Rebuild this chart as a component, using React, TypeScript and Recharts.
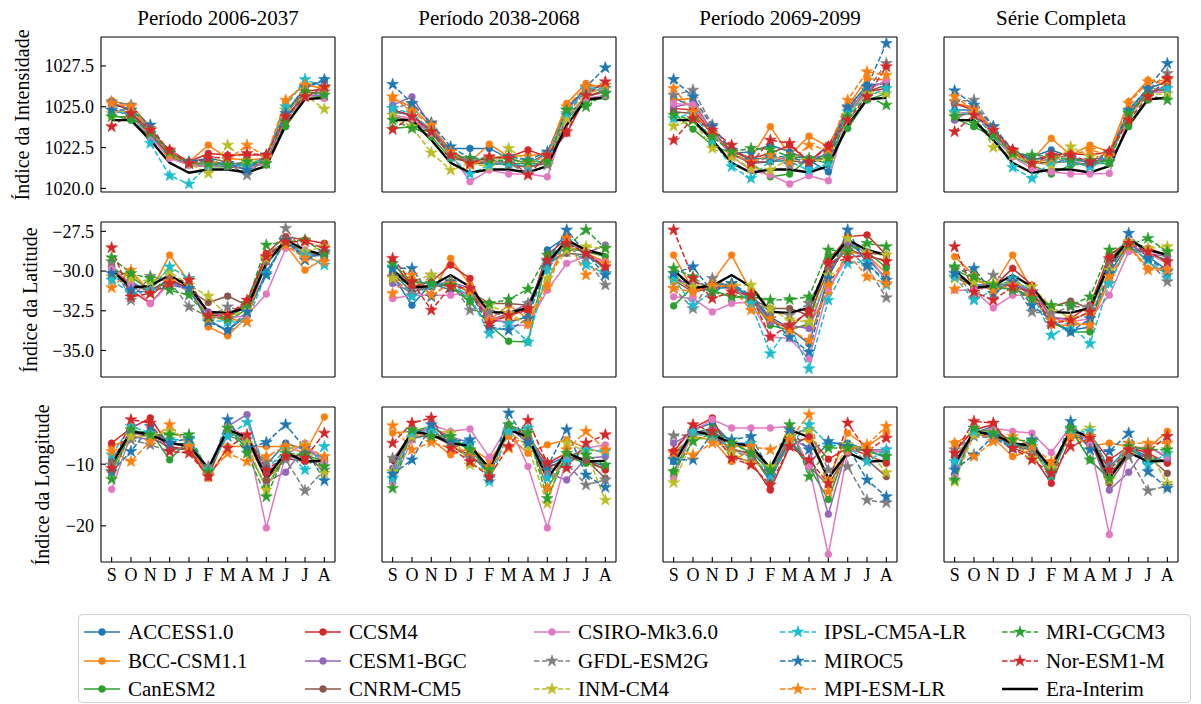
import React from "react";
import { LineChart, Line, XAxis, YAxis } from "recharts";

const months = ["S", "O", "N", "D", "J", "F", "M", "A", "M", "J", "J", "A"];
const periods = ["Período 2006-2037", "Período 2038-2068", "Período 2069-2099", "Série Completa"];
const modelNames = [
  "ACCESS1.0", "BCC-CSM1.1", "CanESM2", "CCSM4", "CESM1-BGC", "CNRM-CM5", "CSIRO-Mk3.6.0",
  "GFDL-ESM2G", "INM-CM4", "IPSL-CM5A-LR", "MIROC5", "MPI-ESM-LR", "MRI-CGCM3", "Nor-ESM1-M",
];
const modelColors = [
  "#1f77b4", "#ff7f0e", "#2ca02c", "#d62728", "#9467bd", "#8c564b", "#e377c2",
  "#7f7f7f", "#bcbd22", "#17becf", "#1f77b4", "#ff7f0e", "#2ca02c", "#d62728",
];

// Era-Interim reference
const eraIntensidade = [1024.18, 1024.18, 1022.96, 1021.57, 1020.96, 1021.16, 1021.16, 1020.98, 1021.37, 1023.88, 1025.45, 1025.55];
const eraLatitude = [-29.94, -31.05, -30.93, -30.25, -30.99, -32.57, -32.63, -32.32, -29.52, -28.04, -28.67, -28.99];
const eraLongitude = [-10.0, -4.67, -5.22, -6.58, -7.01, -10.65, -4.4, -5.6, -12.28, -8.1, -9.57, -9.46];

// rows follow modelNames order
const intensidadeP1 = [
  [1025.1, 1024.9, 1023.57, 1022.04, 1021.63, 1021.84, 1021.63, 1021.33, 1021.94, 1024.69, 1026.12, 1026.63],
  [1025.37, 1025.1, 1023.78, 1021.94, 1021.63, 1022.65, 1021.84, 1021.73, 1021.84, 1025.31, 1026.43, 1026.02],
  [1024.49, 1024.18, 1023.16, 1021.94, 1021.43, 1021.33, 1021.33, 1021.43, 1021.43, 1023.78, 1025.71, 1025.61],
  [1025.31, 1024.69, 1023.47, 1022.35, 1021.63, 1022.14, 1022.04, 1022.04, 1022.04, 1024.59, 1025.92, 1026.12],
  [1024.69, 1024.59, 1023.37, 1022.04, 1021.53, 1021.53, 1021.53, 1021.53, 1021.63, 1024.39, 1025.71, 1025.71],
  [1024.8, 1024.59, 1023.27, 1022.04, 1021.53, 1021.53, 1021.33, 1021.22, 1021.63, 1024.29, 1025.82, 1025.92],
  [1024.8, 1024.49, 1023.16, 1021.84, 1021.43, 1021.33, 1021.43, 1021.22, 1021.53, 1024.18, 1025.61, 1025.51],
  [1025.31, 1025.1, 1023.67, 1022.14, 1021.53, 1021.33, 1021.53, 1020.82, 1021.94, 1024.8, 1025.71, 1025.92],
  [1024.59, 1024.8, 1023.57, 1022.24, 1021.53, 1020.92, 1022.65, 1021.53, 1021.84, 1024.8, 1025.71, 1024.86],
  [1024.8, 1024.49, 1022.76, 1020.78, 1020.27, 1021.43, 1021.43, 1021.33, 1021.94, 1025.0, 1026.67, 1026.22],
  [1024.8, 1024.8, 1023.88, 1022.14, 1021.63, 1021.63, 1021.53, 1021.12, 1022.04, 1024.59, 1026.22, 1026.67],
  [1025.2, 1025.0, 1023.57, 1022.04, 1021.53, 1021.53, 1021.73, 1022.65, 1021.94, 1025.41, 1026.33, 1026.12],
  [1024.39, 1024.39, 1023.37, 1022.24, 1021.53, 1021.53, 1021.43, 1021.63, 1021.53, 1024.08, 1025.92, 1025.71],
  [1023.78, 1024.59, 1023.57, 1022.35, 1021.53, 1021.84, 1021.94, 1022.14, 1022.04, 1024.39, 1025.61, 1026.22],
];
const intensidadeP2 = [
  [1024.69, 1024.49, 1023.37, 1022.45, 1022.45, 1022.45, 1021.84, 1021.53, 1022.14, 1025.0, 1026.02, 1026.33],
  [1025.51, 1025.0, 1023.78, 1022.35, 1021.63, 1022.71, 1021.94, 1022.04, 1022.04, 1025.2, 1026.43, 1026.12],
  [1023.67, 1023.78, 1023.16, 1021.84, 1021.63, 1021.53, 1021.53, 1021.53, 1021.53, 1024.29, 1025.31, 1025.61],
  [1024.8, 1024.49, 1023.57, 1022.24, 1021.63, 1021.84, 1021.94, 1022.35, 1021.94, 1023.37, 1025.61, 1026.02],
  [1025.1, 1025.61, 1023.78, 1022.14, 1021.63, 1021.63, 1021.63, 1021.22, 1021.73, 1024.8, 1026.02, 1026.02],
  [1024.39, 1024.18, 1023.37, 1022.04, 1021.53, 1021.53, 1021.43, 1021.33, 1021.53, 1024.39, 1025.61, 1025.92],
  [1024.49, 1024.29, 1023.37, 1022.14, 1020.41, 1021.12, 1020.88, 1020.88, 1020.71, 1024.29, 1025.51, 1025.71],
  [1024.9, 1025.2, 1024.02, 1022.04, 1021.63, 1021.73, 1021.53, 1020.92, 1021.43, 1024.49, 1026.02, 1025.82],
  [1024.49, 1023.78, 1022.18, 1021.12, 1021.53, 1021.33, 1022.45, 1021.63, 1021.63, 1024.29, 1025.82, 1026.12],
  [1024.9, 1024.59, 1023.57, 1021.94, 1020.88, 1021.43, 1021.53, 1021.33, 1022.14, 1024.59, 1026.12, 1026.12],
  [1026.37, 1025.2, 1023.98, 1022.55, 1021.84, 1021.84, 1021.94, 1021.73, 1022.24, 1024.8, 1026.22, 1027.39],
  [1025.61, 1024.69, 1023.88, 1022.24, 1021.43, 1021.84, 1021.84, 1021.53, 1022.04, 1025.0, 1026.22, 1026.33],
  [1024.18, 1023.67, 1023.47, 1022.04, 1021.84, 1021.73, 1021.73, 1021.63, 1021.63, 1024.8, 1025.0, 1025.82],
  [1023.61, 1024.39, 1023.47, 1022.04, 1021.53, 1021.94, 1021.84, 1020.82, 1022.04, 1023.47, 1025.71, 1026.53],
];
const intensidadeP3 = [
  [1025.55, 1025.0, 1023.57, 1022.14, 1022.24, 1022.65, 1022.24, 1021.73, 1021.02, 1024.9, 1026.33, 1026.43],
  [1025.41, 1025.51, 1023.37, 1022.35, 1021.84, 1023.78, 1022.04, 1023.2, 1022.55, 1025.0, 1026.73, 1026.63],
  [1024.59, 1023.63, 1022.65, 1022.14, 1021.53, 1020.71, 1020.88, 1021.84, 1021.53, 1023.67, 1025.41, 1025.82],
  [1024.9, 1024.8, 1023.47, 1022.24, 1021.84, 1022.14, 1022.65, 1021.63, 1022.65, 1024.59, 1025.92, 1026.12],
  [1025.0, 1025.2, 1023.57, 1022.04, 1021.63, 1021.63, 1021.94, 1021.84, 1022.04, 1024.69, 1026.12, 1026.53],
  [1024.69, 1024.59, 1023.37, 1022.14, 1021.53, 1021.63, 1021.73, 1021.53, 1021.94, 1024.69, 1025.92, 1026.33],
  [1025.2, 1025.1, 1023.47, 1021.94, 1021.12, 1020.82, 1020.27, 1020.78, 1020.47, 1024.59, 1026.02, 1026.63],
  [1025.71, 1026.02, 1023.88, 1022.24, 1021.53, 1021.94, 1021.43, 1021.63, 1022.14, 1024.9, 1026.02, 1027.65],
  [1023.82, 1024.18, 1022.45, 1021.94, 1021.22, 1021.12, 1021.84, 1021.73, 1021.73, 1024.49, 1025.82, 1025.82],
  [1024.29, 1024.59, 1022.96, 1021.33, 1020.61, 1021.73, 1021.63, 1021.12, 1021.53, 1024.69, 1025.61, 1026.12],
  [1026.67, 1025.61, 1023.78, 1022.35, 1021.73, 1021.94, 1021.94, 1021.53, 1022.24, 1025.0, 1026.22, 1028.88],
  [1026.12, 1024.69, 1023.37, 1022.14, 1021.63, 1022.04, 1021.63, 1022.65, 1022.35, 1025.41, 1027.14, 1026.94],
  [1024.49, 1024.18, 1023.16, 1022.24, 1022.45, 1022.39, 1021.94, 1021.84, 1021.84, 1024.39, 1025.61, 1025.1],
  [1022.96, 1024.29, 1023.57, 1022.65, 1021.53, 1022.96, 1022.76, 1021.63, 1022.55, 1024.18, 1025.61, 1027.45],
];
const intensidadeP4 = [
  [1024.8, 1024.8, 1023.57, 1022.24, 1021.94, 1022.35, 1021.94, 1021.53, 1021.94, 1024.8, 1026.12, 1026.53],
  [1025.2, 1025.0, 1023.57, 1022.35, 1021.73, 1023.06, 1022.04, 1022.65, 1022.24, 1025.31, 1026.63, 1026.33],
  [1024.29, 1023.78, 1023.16, 1021.94, 1021.43, 1020.88, 1021.43, 1021.53, 1021.53, 1023.78, 1025.41, 1025.61],
  [1025.2, 1024.8, 1023.47, 1022.35, 1021.73, 1022.04, 1022.14, 1022.04, 1022.24, 1024.49, 1025.71, 1026.33],
  [1024.18, 1024.9, 1023.47, 1022.14, 1021.53, 1021.53, 1021.73, 1021.63, 1021.84, 1024.59, 1025.92, 1026.02],
  [1024.49, 1024.59, 1023.37, 1022.14, 1021.53, 1021.63, 1021.63, 1021.43, 1021.84, 1024.59, 1025.92, 1026.12],
  [1024.59, 1024.69, 1023.27, 1021.94, 1021.22, 1021.02, 1020.88, 1020.88, 1020.92, 1024.39, 1025.82, 1025.92],
  [1025.31, 1025.41, 1023.78, 1022.24, 1021.53, 1021.84, 1021.63, 1021.33, 1021.94, 1024.69, 1026.02, 1027.04],
  [1024.59, 1024.59, 1022.51, 1022.04, 1021.63, 1021.43, 1022.55, 1021.94, 1021.94, 1024.39, 1025.71, 1025.82],
  [1024.69, 1024.49, 1023.27, 1021.29, 1020.61, 1021.63, 1021.63, 1021.33, 1021.73, 1024.69, 1026.12, 1026.12],
  [1025.98, 1025.1, 1023.78, 1022.35, 1021.73, 1021.94, 1021.94, 1021.53, 1022.14, 1024.8, 1026.12, 1027.65],
  [1025.61, 1024.8, 1023.57, 1022.24, 1021.53, 1021.84, 1022.04, 1022.35, 1022.04, 1025.2, 1026.53, 1026.63],
  [1024.39, 1023.98, 1023.27, 1022.14, 1022.04, 1021.94, 1021.73, 1021.73, 1021.63, 1024.59, 1025.71, 1025.41],
  [1023.47, 1024.49, 1023.57, 1022.35, 1021.53, 1022.04, 1022.04, 1021.63, 1022.24, 1024.18, 1025.61, 1026.73],
];

const latitudeP1 = [
  [-30.15, -30.67, -31.31, -30.57, -31.09, -33.09, -33.73, -32.78, -30.04, -28.15, -29.09, -28.99],
  [-30.36, -30.04, -31.31, -28.99, -30.67, -33.52, -34.08, -32.88, -29.41, -28.36, -29.94, -29.2],
  [-29.83, -30.36, -31.2, -30.57, -31.31, -32.67, -33.2, -32.36, -28.99, -28.15, -28.78, -29.09],
  [-29.62, -31.2, -32.04, -30.67, -30.99, -32.78, -32.88, -31.94, -28.88, -27.83, -28.04, -28.25],
  [-29.94, -30.88, -31.2, -30.67, -31.2, -32.57, -32.88, -32.25, -29.41, -28.25, -28.88, -28.99],
  [-30.04, -30.78, -31.31, -30.46, -31.2, -31.98, -31.58, -32.15, -29.41, -28.25, -28.78, -29.09],
  [-29.83, -30.78, -32.04, -30.78, -31.2, -32.78, -32.99, -32.78, -31.45, -28.57, -28.67, -29.09],
  [-29.41, -31.83, -30.32, -30.67, -32.25, -32.88, -32.25, -32.57, -29.31, -27.31, -28.88, -28.99],
  [-30.36, -30.46, -30.67, -30.04, -30.88, -31.58, -32.88, -32.46, -29.2, -28.04, -28.78, -28.46],
  [-30.57, -31.41, -31.2, -29.73, -30.46, -33.09, -33.2, -33.2, -30.15, -28.04, -28.99, -29.62],
  [-30.15, -31.2, -31.41, -30.88, -31.09, -33.2, -33.73, -32.57, -30.25, -28.04, -29.31, -28.78],
  [-31.05, -29.94, -31.41, -30.67, -30.57, -32.99, -32.99, -33.2, -29.09, -28.36, -29.2, -29.41],
  [-29.16, -30.15, -30.46, -31.2, -31.52, -32.88, -32.99, -32.04, -28.36, -28.15, -28.04, -28.88],
  [-28.53, -31.62, -31.41, -30.78, -30.57, -32.78, -32.78, -31.83, -29.09, -28.15, -28.15, -28.57],
];
const latitudeP2 = [
  [-30.25, -32.15, -30.78, -31.2, -31.41, -33.09, -33.2, -32.88, -28.67, -27.83, -28.99, -29.83],
  [-30.67, -30.46, -31.52, -29.2, -30.88, -33.09, -32.15, -32.99, -30.67, -27.94, -28.88, -29.41],
  [-29.94, -30.67, -30.78, -30.99, -31.94, -33.41, -34.42, -34.46, -28.99, -28.57, -28.78, -29.09],
  [-29.41, -30.99, -30.67, -29.62, -30.46, -33.2, -32.78, -32.46, -28.99, -27.94, -28.78, -29.83],
  [-30.78, -31.31, -30.88, -30.67, -31.09, -33.09, -32.67, -32.04, -29.73, -28.15, -28.88, -28.36],
  [-30.15, -31.31, -30.99, -30.78, -31.31, -32.04, -32.04, -32.15, -29.41, -28.88, -28.99, -29.73],
  [-31.73, -31.52, -31.52, -31.52, -31.31, -32.78, -33.41, -33.41, -31.2, -29.52, -29.09, -29.41],
  [-30.36, -31.52, -30.25, -30.67, -32.46, -32.57, -32.88, -32.04, -29.62, -28.78, -29.2, -30.88],
  [-30.46, -30.67, -30.25, -30.67, -31.31, -32.15, -32.67, -33.31, -30.46, -28.67, -28.46, -28.57],
  [-29.73, -31.62, -30.88, -30.78, -31.62, -33.94, -33.31, -34.46, -29.94, -28.15, -29.62, -30.15],
  [-29.83, -29.83, -31.62, -30.67, -31.31, -33.52, -33.73, -32.99, -29.41, -27.41, -28.88, -30.25],
  [-31.41, -30.25, -31.52, -30.78, -31.31, -33.09, -32.88, -33.31, -30.99, -27.94, -30.25, -29.52],
  [-29.52, -30.67, -30.78, -30.88, -31.83, -32.04, -31.79, -31.14, -28.99, -28.46, -27.41, -28.57],
  [-29.2, -30.67, -32.46, -30.99, -31.09, -33.31, -32.78, -32.36, -29.31, -28.25, -28.88, -29.73],
];
const latitudeP3 = [
  [-30.25, -31.2, -30.78, -30.88, -31.62, -32.88, -33.62, -34.57, -30.36, -28.15, -29.2, -30.46],
  [-28.99, -31.2, -30.67, -28.99, -31.31, -33.2, -33.62, -33.41, -31.31, -28.78, -28.99, -30.15],
  [-32.19, -30.99, -31.2, -31.62, -31.73, -33.41, -33.73, -33.31, -29.09, -28.36, -28.78, -29.79],
  [-30.36, -31.2, -30.88, -31.09, -31.62, -33.09, -33.62, -32.46, -29.41, -27.83, -27.73, -28.99],
  [-30.67, -30.67, -30.99, -31.09, -31.62, -33.2, -33.41, -33.62, -30.15, -28.15, -28.88, -28.99],
  [-30.57, -31.31, -31.09, -30.99, -31.73, -32.36, -32.36, -32.78, -29.94, -28.57, -29.09, -29.31],
  [-31.62, -31.73, -32.57, -32.04, -31.94, -34.15, -34.25, -35.52, -31.09, -29.2, -28.88, -30.67],
  [-31.09, -32.36, -30.46, -31.09, -31.94, -32.46, -32.78, -32.04, -29.62, -28.67, -29.73, -31.68],
  [-30.57, -30.99, -30.99, -30.88, -30.88, -32.36, -33.09, -33.2, -30.25, -27.94, -28.88, -28.99],
  [-30.46, -32.15, -31.31, -30.78, -32.04, -35.2, -33.41, -36.15, -31.83, -29.52, -29.41, -30.88],
  [-30.15, -29.73, -31.31, -30.78, -31.52, -32.99, -34.15, -35.09, -30.46, -27.41, -29.62, -30.57],
  [-31.09, -31.31, -30.88, -30.99, -32.46, -32.99, -33.73, -34.36, -30.88, -28.88, -30.36, -30.78],
  [-29.83, -30.36, -31.31, -31.62, -31.62, -31.83, -31.79, -31.62, -28.67, -28.78, -28.25, -28.46],
  [-27.41, -30.46, -31.73, -31.31, -31.52, -34.15, -33.41, -32.57, -29.52, -29.2, -28.99, -29.41],
];
const latitudeP4 = [
  [-30.25, -30.88, -30.88, -30.78, -31.52, -33.2, -33.73, -33.52, -30.15, -28.25, -29.09, -29.94],
  [-29.09, -30.25, -30.99, -28.99, -31.2, -33.41, -33.41, -33.31, -30.67, -28.36, -29.83, -29.83],
  [-29.94, -30.46, -31.09, -31.09, -31.62, -33.2, -33.83, -33.83, -28.88, -28.57, -28.88, -29.31],
  [-29.94, -31.09, -30.99, -29.83, -30.88, -32.99, -32.99, -32.15, -28.99, -28.15, -28.57, -28.99],
  [-30.25, -30.99, -31.09, -30.78, -31.31, -32.88, -33.09, -32.57, -29.62, -28.36, -28.88, -29.09],
  [-30.36, -30.99, -30.99, -30.67, -31.2, -32.25, -31.89, -32.36, -29.52, -28.57, -28.88, -29.41],
  [-31.2, -31.2, -32.32, -31.52, -31.52, -32.99, -33.2, -32.99, -31.52, -28.78, -28.88, -29.52],
  [-29.83, -31.73, -30.25, -30.67, -32.57, -32.67, -32.25, -32.25, -29.31, -28.46, -29.31, -30.67],
  [-30.46, -30.67, -30.78, -30.78, -30.99, -32.25, -32.99, -32.67, -29.94, -28.15, -28.57, -28.46],
  [-30.36, -31.83, -31.2, -30.46, -31.31, -34.04, -33.41, -34.57, -30.78, -28.36, -29.31, -30.25],
  [-30.15, -29.83, -31.41, -30.67, -32.15, -33.09, -33.83, -32.99, -30.15, -27.62, -29.2, -30.04],
  [-31.14, -30.36, -31.2, -30.88, -31.62, -33.09, -33.2, -33.41, -30.36, -28.46, -29.94, -29.94],
  [-29.73, -30.36, -30.88, -31.2, -31.73, -32.15, -32.15, -31.62, -28.67, -28.36, -27.94, -28.78],
  [-28.46, -31.31, -31.83, -30.99, -31.31, -33.31, -33.09, -32.57, -29.2, -28.25, -28.78, -29.41],
];

const longitudeP1 = [
  [-10.38, -4.95, -4.67, -6.85, -6.58, -11.47, -4.67, -6.03, -10.11, -6.58, -7.66, -9.02],
  [-7.12, -5.76, -5.22, -6.03, -7.66, -12.28, -7.12, -7.12, -7.12, -7.12, -8.21, -2.34],
  [-10.92, -4.95, -4.67, -9.29, -6.03, -11.47, -3.86, -7.66, -13.64, -8.75, -8.48, -9.57],
  [-6.58, -4.13, -2.5, -7.12, -7.66, -12.01, -4.4, -5.49, -11.47, -9.02, -9.57, -9.57],
  [-9.84, -5.49, -6.03, -6.58, -7.12, -10.65, -3.86, -1.96, -12.83, -11.3, -7.12, -9.84],
  [-9.29, -4.95, -5.49, -7.39, -7.66, -11.2, -4.4, -6.03, -12.55, -9.02, -8.21, -11.2],
  [-14.08, -5.22, -4.95, -6.58, -7.12, -10.92, -3.86, -5.49, -20.33, -8.48, -6.58, -9.84],
  [-10.11, -6.03, -6.85, -7.93, -7.12, -10.38, -5.49, -6.03, -9.57, -9.29, -14.29, -10.92],
  [-11.47, -5.49, -5.49, -4.67, -6.03, -10.92, -4.13, -6.58, -14.18, -7.66, -6.85, -11.47],
  [-8.48, -3.86, -4.95, -6.03, -6.03, -10.92, -5.49, -3.21, -10.92, -7.66, -10.92, -7.12],
  [-11.2, -7.93, -3.86, -6.58, -5.76, -11.74, -2.77, -7.39, -6.47, -3.59, -7.39, -12.66],
  [-7.93, -9.57, -6.3, -3.59, -7.12, -11.74, -8.21, -9.57, -8.75, -7.12, -7.12, -8.75],
  [-12.45, -4.4, -5.22, -5.22, -5.22, -11.2, -4.13, -8.21, -15.27, -8.21, -8.48, -10.38],
  [-10.65, -2.77, -3.32, -7.93, -8.21, -12.01, -7.39, -5.22, -10.92, -8.75, -9.02, -4.95],
];
const longitudeP2 = [
  [-11.47, -4.95, -4.13, -7.12, -6.58, -12.01, -3.86, -6.58, -10.11, -8.75, -9.29, -10.38],
  [-4.95, -4.67, -6.03, -8.48, -7.39, -9.29, -5.49, -8.21, -6.85, -6.03, -7.39, -8.21],
  [-12.55, -4.67, -3.86, -6.03, -7.66, -11.2, -3.59, -5.49, -13.91, -8.75, -9.84, -10.65],
  [-9.29, -4.95, -4.13, -7.12, -8.48, -11.2, -4.4, -5.49, -9.84, -8.21, -9.29, -10.92],
  [-10.65, -5.49, -4.13, -5.49, -6.58, -11.2, -4.13, -4.67, -11.47, -12.55, -9.02, -8.75],
  [-9.29, -5.76, -5.22, -6.85, -9.02, -10.38, -3.86, -5.76, -10.65, -9.02, -9.29, -12.28],
  [-13.1, -6.03, -3.59, -4.67, -4.29, -8.86, -3.59, -10.38, -20.33, -9.02, -7.39, -6.85],
  [-9.02, -5.76, -5.49, -6.3, -9.02, -10.92, -4.4, -4.95, -10.92, -9.84, -13.37, -12.55],
  [-11.2, -5.49, -4.4, -4.95, -10.11, -11.2, -4.67, -7.12, -16.36, -6.58, -7.93, -15.82],
  [-12.28, -4.95, -4.4, -6.3, -6.58, -12.83, -4.67, -4.13, -12.28, -9.57, -7.66, -7.93],
  [-11.58, -9.29, -3.59, -6.3, -6.03, -12.28, -1.68, -6.58, -10.38, -4.4, -11.74, -13.75],
  [-3.75, -7.66, -6.47, -7.39, -7.93, -10.38, -7.39, -4.95, -13.91, -7.66, -4.67, -7.66],
  [-13.91, -4.4, -5.49, -5.49, -7.66, -10.92, -3.59, -4.95, -15.54, -8.21, -8.48, -10.11],
  [-6.58, -3.32, -2.5, -7.39, -9.57, -12.01, -7.12, -2.88, -9.84, -10.65, -6.58, -5.22],
];
const longitudeP3 = [
  [-9.57, -4.4, -3.32, -6.58, -6.58, -12.01, -6.03, -9.84, -6.58, -6.58, -7.66, -9.02],
  [-8.21, -5.49, -6.03, -9.57, -7.66, -10.92, -6.03, -6.03, -12.55, -4.95, -7.12, -4.95],
  [-11.2, -4.95, -4.13, -6.3, -8.21, -12.83, -4.4, -10.38, -15.71, -7.12, -7.93, -7.93],
  [-7.93, -4.13, -2.5, -8.75, -9.57, -14.18, -7.12, -5.49, -9.18, -7.39, -8.48, -9.84],
  [-6.58, -4.95, -4.4, -7.93, -7.93, -11.2, -5.76, -7.39, -18.1, -7.12, -7.66, -7.66],
  [-8.75, -5.22, -4.95, -7.66, -8.21, -12.45, -6.3, -10.38, -13.37, -8.21, -9.29, -12.01],
  [-12.28, -4.67, -2.77, -4.13, -4.13, -4.13, -3.86, -10.38, -24.62, -7.93, -7.66, -8.21],
  [-5.38, -5.22, -5.22, -7.93, -8.75, -11.74, -4.95, -4.4, -10.92, -10.38, -15.82, -16.25],
  [-12.99, -6.03, -5.76, -8.21, -9.84, -10.38, -5.49, -4.4, -12.83, -6.85, -7.66, -11.36],
  [-9.18, -4.67, -5.76, -7.12, -6.58, -12.01, -6.85, -3.59, -6.85, -7.12, -9.57, -7.66],
  [-9.29, -9.29, -4.95, -6.03, -5.49, -11.2, -4.4, -7.66, -6.3, -7.12, -12.55, -15.27],
  [-8.21, -8.48, -6.58, -7.12, -7.12, -7.66, -6.03, -1.96, -14.46, -7.66, -6.85, -3.86],
  [-11.2, -6.3, -4.95, -6.58, -8.21, -10.92, -3.59, -12.01, -7.39, -7.39, -7.93, -8.75],
  [-7.93, -3.59, -4.67, -9.02, -10.11, -13.37, -7.12, -9.29, -13.1, -3.32, -7.93, -5.76],
];
const longitudeP4 = [
  [-9.57, -4.95, -3.86, -6.85, -6.58, -11.74, -4.4, -7.12, -10.38, -7.39, -8.75, -9.57],
  [-6.58, -4.95, -5.76, -8.75, -7.66, -10.11, -4.95, -7.12, -6.58, -7.12, -7.39, -4.67],
  [-11.74, -4.67, -4.4, -6.85, -7.39, -12.01, -4.4, -9.29, -12.45, -7.66, -9.02, -9.57],
  [-7.93, -4.4, -3.59, -7.39, -8.48, -13.1, -5.76, -5.22, -9.29, -7.12, -8.21, -9.84],
  [-10.38, -5.22, -4.95, -6.85, -7.12, -10.92, -4.4, -5.76, -14.18, -11.3, -7.12, -9.02],
  [-8.75, -5.22, -5.22, -7.12, -7.66, -10.92, -4.4, -6.03, -13.1, -8.48, -8.75, -11.47],
  [-12.01, -4.95, -4.13, -4.67, -4.95, -8.1, -3.86, -6.58, -21.41, -7.66, -7.12, -8.75],
  [-7.66, -5.49, -5.76, -7.39, -7.66, -10.92, -4.4, -5.49, -10.38, -8.75, -14.29, -13.53],
  [-12.83, -5.22, -4.95, -6.3, -9.02, -10.65, -4.95, -4.13, -12.55, -7.39, -7.66, -13.1],
  [-9.57, -4.67, -5.22, -7.12, -6.58, -11.74, -4.95, -4.67, -10.92, -6.58, -10.11, -8.21],
  [-10.92, -8.48, -5.49, -7.39, -6.03, -11.47, -3.04, -7.66, -7.93, -4.95, -11.2, -13.91],
  [-6.58, -8.75, -6.3, -5.49, -7.12, -9.57, -5.49, -5.49, -12.28, -6.58, -6.58, -6.58],
  [-12.55, -4.13, -4.95, -6.03, -6.3, -11.2, -4.13, -9.29, -12.28, -7.12, -7.66, -7.66],
  [-8.21, -3.04, -3.32, -7.39, -9.29, -11.47, -7.12, -5.76, -10.92, -7.66, -7.93, -5.49],
];

const FONT = '"Liberation Serif", "Times New Roman", serif';
const PLOT_W = 234;
const PLOT_H = 155;
const colLeft = [101, 382, 663, 944];
const rowTop = [37, 222, 407];
const monthIdx = months.map((_, i) => i);
const minus = (s: string) => s.replace("-", "\u2212");

const rowsCfg = [
  {
    label: "Índice da Intensidade",
    labelX: 22,
    domain: [1019.78, 1029.27],
    ticks: [1020, 1022.5, 1025, 1027.5],
    fmt: (v: number) => v.toFixed(1),
    era: eraIntensidade,
    panels: [intensidadeP1, intensidadeP2, intensidadeP3, intensidadeP4],
  },
  {
    label: "Índice da Latitude",
    labelX: 30,
    domain: [-36.67, -26.91],
    ticks: [-35, -32.5, -30, -27.5],
    fmt: (v: number) => minus(v.toFixed(1)),
    era: eraLatitude,
    panels: [latitudeP1, latitudeP2, latitudeP3, latitudeP4],
  },
  {
    label: "Índice da Longitude",
    labelX: 42,
    domain: [-25.86, -0.72],
    ticks: [-20, -10],
    fmt: (v: number) => minus(v.toFixed(0)),
    era: eraLongitude,
    panels: [longitudeP1, longitudeP2, longitudeP3, longitudeP4],
  },
];

function starPath(cx: number, cy: number, r: number) {
  const inner = r * 0.382;
  let d = "";
  for (let i = 0; i < 10; i++) {
    const rad = i % 2 === 0 ? r : inner;
    const a = -Math.PI / 2 + (i * Math.PI) / 5;
    d += (i === 0 ? "M" : "L") + (cx + rad * Math.cos(a)).toFixed(2) + "," + (cy + rad * Math.sin(a)).toFixed(2);
  }
  return d + "Z";
}

function Marker({ cx, cy, color, star }: { cx?: number; cy?: number; color: string; star: boolean }) {
  if (cx == null || cy == null) return null;
  if (star) return <path d={starPath(cx, cy, 6.2)} fill={color} stroke={color} strokeWidth={0.6} />;
  return <circle cx={cx} cy={cy} r={3.4} fill={color} stroke={color} strokeWidth={0.6} />;
}

const axisStroke = { stroke: "#000", strokeWidth: 1.1 };

function Panel({ row, col }: { row: number; col: number }) {
  const cfg = rowsCfg[row];
  const series = cfg.panels[col];
  const data = months.map((_, i) => {
    const r: any = { m: i, era: cfg.era[i] };
    series.forEach((s, k) => (r[`s${k}`] = s[i]));
    return r;
  });
  const tickStyle = { fontFamily: FONT, fontSize: 18, fill: "#000" };
  return (
    <div style={{ position: "absolute", left: colLeft[col] - 60, top: rowTop[row] - 8 }}>
      <LineChart
        width={60 + PLOT_W + 1 + 4}
        height={8 + PLOT_H + 30}
        data={data}
        margin={{ top: 7, right: 4, bottom: 0, left: 0 }}
      >
        <XAxis
          xAxisId="b"
          dataKey="m"
          type="number"
          domain={[-0.55, 11.55]}
          ticks={monthIdx}
          interval={0}
          allowDataOverflow
          height={30}
          tickSize={-5}
          tickMargin={11}
          tickFormatter={(v: number) => months[v]}
          tick={row === 2 ? tickStyle : false}
          axisLine={axisStroke}
          tickLine={axisStroke}
        />
        <XAxis
          xAxisId="t"
          orientation="top"
          dataKey="m"
          type="number"
          domain={[-0.55, 11.55]}
          ticks={monthIdx}
          interval={0}
          allowDataOverflow
          height={1}
          tickSize={-5}
          tick={false}
          axisLine={axisStroke}
          tickLine={axisStroke}
        />
        <YAxis
          yAxisId="l"
          type="number"
          domain={cfg.domain}
          ticks={cfg.ticks}
          interval={0}
          allowDataOverflow
          width={60}
          tickSize={-5}
          tickMargin={12}
          tickFormatter={cfg.fmt}
          tick={col === 0 ? tickStyle : false}
          axisLine={axisStroke}
          tickLine={axisStroke}
        />
        <YAxis
          yAxisId="r"
          orientation="right"
          type="number"
          domain={cfg.domain}
          ticks={cfg.ticks}
          interval={0}
          allowDataOverflow
          width={1}
          tickSize={-5}
          tick={false}
          axisLine={axisStroke}
          tickLine={axisStroke}
        />
        {series.map((_, k) => (
          <Line
            key={k}
            xAxisId="b"
            yAxisId="l"
            type="linear"
            dataKey={`s${k}`}
            stroke={modelColors[k]}
            strokeWidth={1.5}
            strokeDasharray={k >= 7 ? "5.5 2.4" : undefined}
            dot={(p: any) => (
              <Marker key={`m${k}-${p.index}`} cx={p.cx} cy={p.cy} color={modelColors[k]} star={k >= 7} />
            )}
            activeDot={false}
            isAnimationActive={false}
          />
        ))}
        <Line
          xAxisId="b"
          yAxisId="l"
          type="linear"
          dataKey="era"
          stroke="#000"
          strokeWidth={2.4}
          dot={false}
          activeDot={false}
          isAnimationActive={false}
        />
      </LineChart>
    </div>
  );
}

function LegendBox() {
  const textX = [128, 349, 578, 824, 1046];
  const rowY = [632, 661, 689];
  const items = [
    ...modelNames.map((n, i) => ({ name: n, color: modelColors[i], star: i >= 7, era: false })),
    { name: "Era-Interim", color: "#000", star: false, era: true },
  ];
  return (
    <svg width={1201} height={704} style={{ position: "absolute", left: 0, top: 0, pointerEvents: "none" }}>
      <rect x={78.5} y={614.5} width={1112} height={88} rx={4} fill="#fff" stroke="#d0d0d0" strokeWidth={1} />
      {items.map((it, k) => {
        const tx = textX[Math.floor(k / 3)];
        const x = tx - 44;
        const y = rowY[k % 3];
        return (
          <g key={it.name}>
            <line
              x1={x}
              x2={x + 36}
              y1={y}
              y2={y}
              stroke={it.color}
              strokeWidth={it.era ? 2.4 : 1.5}
              strokeDasharray={it.star ? "5.5 2.4" : undefined}
            />
            {!it.era && <Marker cx={x + 18} cy={y} color={it.color} star={it.star} />}
            <text x={tx} y={y} dominantBaseline="central" fontFamily={FONT} fontSize={21} fill="#000">
              {it.name}
            </text>
          </g>
        );
      })}
    </svg>
  );
}

export default function App() {
  return (
    <div style={{ position: "absolute", left: 0, top: 0, width: 1201, height: 704, background: "#fff", fontFamily: FONT }}>
      {periods.map((p, c) => (
        <div
          key={p}
          style={{
            position: "absolute",
            left: colLeft[c],
            top: 5,
            width: PLOT_W,
            height: 26,
            lineHeight: "26px",
            textAlign: "center",
            fontSize: 21,
          }}
        >
          {p}
        </div>
      ))}
      {rowsCfg.map((r, ri) => (
        <div
          key={r.label}
          style={{
            position: "absolute",
            left: r.labelX - 150,
            top: rowTop[ri] + PLOT_H / 2 - 12,
            width: 300,
            height: 24,
            lineHeight: "24px",
            textAlign: "center",
            fontSize: 20,
            transform: "rotate(-90deg)",
          }}
        >
          {r.label}
        </div>
      ))}
      {rowsCfg.map((_, ri) => [0, 1, 2, 3].map((ci) => <Panel key={`${ri}-${ci}`} row={ri} col={ci} />))}
      <LegendBox />
    </div>
  );
}
